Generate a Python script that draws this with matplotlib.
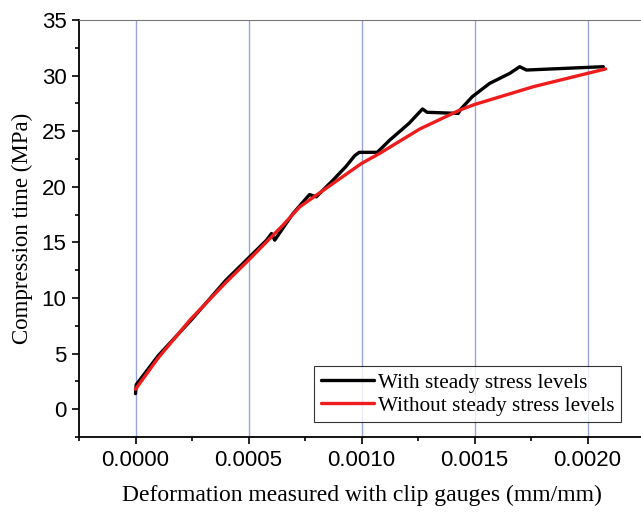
import matplotlib
import numpy as np

matplotlib.use('Agg')
from matplotlib import pyplot as plt
from matplotlib.ticker import MultipleLocator

# curve with steady stress levels (black)
x_steady = [0, 0.000003, 0.0001, 0.00025, 0.0004, 0.0005, 0.00058, 0.000602, 0.000616,
            0.000697, 0.00077, 0.0008, 0.000874, 0.00093, 0.00097, 0.00099,
            0.00107, 0.001125, 0.00121, 0.00127, 0.00129, 0.001428, 0.00144,
            0.00149, 0.001567, 0.001656, 0.0017, 0.00173, 0.00207]
y_steady = [1.4, 2.2, 4.8, 8.1, 11.6, 13.6, 15.2, 15.8, 15.2,
            17.6, 19.3, 19.1, 20.6, 21.8, 22.8, 23.1,
            23.1, 24.2, 25.7, 27.0, 26.7, 26.6, 27.0,
            28.1, 29.3, 30.2, 30.8, 30.5, 30.8]

# curve without steady stress levels (red)
x_smooth = [0, 0.0001, 0.00024, 0.0004, 0.0005, 0.00065, 0.000727, 0.000874, 0.001,
            0.00108, 0.001258, 0.001435, 0.0015, 0.00176, 0.002, 0.00208]
y_smooth = [1.8, 4.6, 8.0, 11.4, 13.4, 16.5, 18.2, 20.3, 22.1,
            23.0, 25.2, 26.9, 27.4, 29.0, 30.2, 30.6]

serif = ["Liberation Serif", "DejaVu Serif"]
sans = ["Liberation Sans", "DejaVu Sans"]

fig = plt.figure(figsize=(6.41, 5.16), dpi=100)
ax = fig.add_axes([79 / 641, 1 - 437 / 516, 565 / 641, 417 / 516])

ax.plot(x_steady, y_steady, color="black", lw=2.4, label="With steady stress levels",
        solid_capstyle="round", solid_joinstyle="round", zorder=3)
ax.plot(x_smooth, y_smooth, color="#ee1c1c", lw=2.4, label="Without steady stress levels",
        solid_capstyle="round", solid_joinstyle="round", zorder=4)

ax.set_xlim(-0.00025, 0.00225)
ax.set_ylim(-2.5, 35)
ax.xaxis.set_minor_locator(MultipleLocator(0.00025))
ax.yaxis.set_major_locator(MultipleLocator(5))
ax.yaxis.set_minor_locator(MultipleLocator(2.5))
ax.set_xticks([0, 0.0005, 0.001, 0.0015, 0.002])
ax.set_xticklabels(["0.0000", "0.0005", "0.0010", "0.0015", "0.0020"])
ax.xaxis.grid(True, which="major", color="#9aa4dc", lw=1.0)
ax.set_axisbelow(True)

for lab in ax.get_xticklabels() + ax.get_yticklabels():
    lab.set_family(sans)
    lab.set_fontsize(16)
ax.tick_params(which="major", direction="out", length=5, width=1.2, pad=4)
ax.tick_params(which="minor", direction="out", length=3, width=1.2)
ax.tick_params(top=False, right=False)

ax.spines["left"].set_linewidth(1.3)
ax.spines["bottom"].set_linewidth(1.3)
ax.spines["top"].set_color("#777777")
ax.spines["right"].set_visible(False)

ax.set_xlabel("Deformation measured with clip gauges (mm/mm)", family=serif, fontsize=17, labelpad=10)
ax.set_ylabel("Compression time (MPa)", family=serif, fontsize=16.5, labelpad=6)

leg = ax.legend(loc="lower right", bbox_to_anchor=(621 / 641, 1 - 422 / 516),
                bbox_transform=fig.transFigure, borderaxespad=0, fancybox=False,
                prop={"family": serif, "size": 15.3}, handlelength=2.5, handletextpad=0.2,
                borderpad=0.3, labelspacing=0.15)
leg.get_frame().set_edgecolor("black")
leg.get_frame().set_linewidth(0.8)

fig.savefig("out.png", dpi=100)
